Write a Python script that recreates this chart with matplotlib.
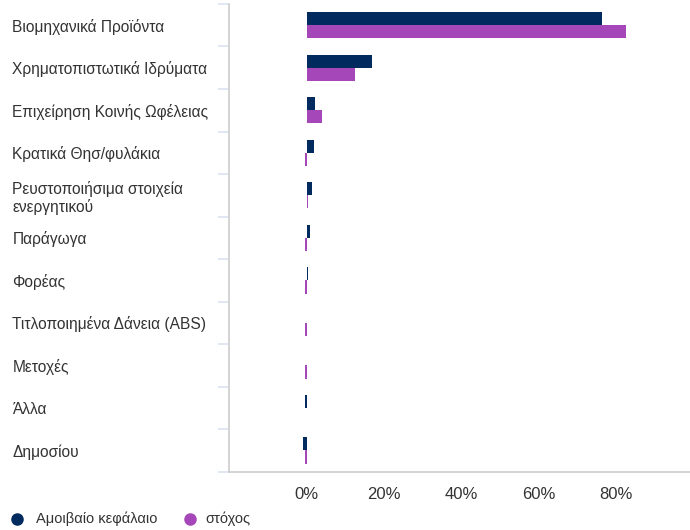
import matplotlib.pyplot as plt
from matplotlib.lines import Line2D
import numpy as np

categories = [
    "Βιομηχανικά Προϊόντα",
    "Χρηματοπιστωτικά Ιδρύματα",
    "Επιχείρηση Κοινής Ωφέλειας",
    "Κρατικά Θησ/φυλάκια",
    "Ρευστοποιήσιμα στοιχεία\nενεργητικού",
    "Παράγωγα",
    "Φορέας",
    "Τιτλοποιημένα Δάνεια (ABS)",
    "Μετοχές",
    "Άλλα",
    "Δημοσίου",
]
fund = [76.4, 17.0, 2.3, 1.9, 1.3, 1.0, 0.3, 0.0, 0.0, -0.4, -1.0]
target = [82.6, 12.4, 4.1, -0.5, 0.4, -0.4, -0.4, -0.4, -0.4, 0.0, -0.4]
series_names = ["Αμοιβαίο κεφάλαιο", "στόχος"]
x_ticks = [0, 20, 40, 60, 80]


def main():
    plt.rcParams["font.family"] = ["Liberation Sans", "DejaVu Sans"]
    navy = "#012a5e"
    purple = "#a547b8"

    fig = plt.figure(figsize=(6.9, 5.3), dpi=100)
    ax = fig.add_axes([0.332, 0.110, 0.668, 0.8825])

    # Two bars per category, fund on top and target below.
    y = np.arange(len(categories))
    h = 0.31
    ax.barh(y - h / 2, fund, height=h, color=navy)
    ax.barh(y + h / 2, target, height=h, color=purple)

    ax.set_ylim(len(categories) - 0.5, -0.5)
    ax.set_xlim(-20, 99)

    # Category labels left aligned at the figure edge.
    ax.set_yticks(y)
    ax.set_yticklabels(categories, ha="left", fontsize=11.2, color="#333333")
    ax.tick_params(axis="y", which="major", length=0, pad=156)
    ax.set_yticks(np.arange(len(categories) + 1) - 0.5, minor=True)
    ax.tick_params(axis="y", which="minor", length=8, width=1.2, color="#dde3f2")

    ax.set_xticks(x_ticks)
    ax.set_xticklabels([f"{t}%" for t in x_ticks], fontsize=12, color="#333333")
    ax.tick_params(axis="x", length=0, pad=11)

    for side in ["top", "right"]:
        ax.spines[side].set_visible(False)
    ax.spines["left"].set_color("#cccccc")
    ax.spines["bottom"].set_color("#cccccc")
    ax.spines["left"].set_linewidth(1.2)
    ax.spines["bottom"].set_linewidth(1.2)

    # Legend drawn by hand in figure pixels to match the layout.
    W, H = 690, 530
    legend_y = 1 - 519 / H
    for (cx, tx), name, col in zip([(17, 36), (190, 205)], series_names, [navy, purple]):
        fig.add_artist(Line2D([cx / W], [legend_y], marker="o", linestyle="",
                              markersize=8, color=col, transform=fig.transFigure))
        fig.text(tx / W, legend_y, name, fontsize=10.5, color="#333333",
                 ha="left", va="center")

    fig.savefig("out.png", dpi=100)
    plt.close(fig)


if __name__ == "__main__":
    main()
